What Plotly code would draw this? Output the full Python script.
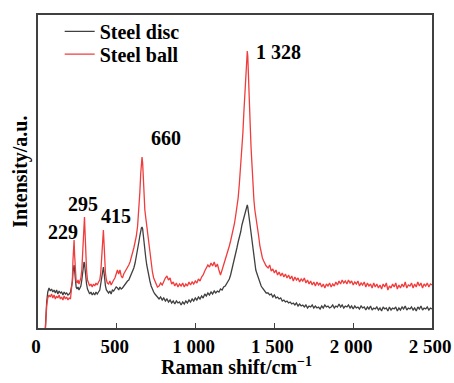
import plotly.graph_objects as go

# Raman shift (cm^-1)
wavenumber = [
    42, 48, 55, 62, 70, 78, 86, 94, 102, 110, 118, 126, 134, 142, 150, 158, 166, 174, 182, 190, 198, 206,
    212, 218, 222, 226, 229, 232, 236, 242, 248, 254, 260, 266, 272, 278, 284, 288, 292, 295, 298, 302, 308, 314,
    320, 328, 336, 344, 352, 360, 368, 376, 384, 392, 398, 404, 408, 412, 415, 418, 422, 428, 434, 440,
    448, 456, 464, 472, 480, 488, 496, 504, 512, 520, 528, 536, 544, 552, 560, 568, 576, 584, 592, 600, 608, 616, 624, 632, 640,
    646, 652, 656, 660, 664, 668, 672, 678, 684, 690, 696, 702, 710, 718, 726, 734, 742, 750, 758,
    768, 778, 788, 798, 808, 818, 828, 838, 848, 858, 868, 878, 888, 898, 908, 918, 928, 938, 948, 958, 968, 978,
    988, 998, 1008, 1018, 1028, 1038, 1048, 1058, 1068, 1078, 1088, 1098, 1108, 1118, 1128, 1138, 1148, 1158,
    1168, 1178, 1188, 1198,
    1206, 1214, 1222, 1230, 1238, 1246, 1254, 1262, 1270, 1278, 1286, 1294, 1300, 1306, 1312, 1318, 1322, 1326,
    1328, 1331, 1335, 1340, 1346, 1352, 1358, 1364, 1370, 1376, 1382, 1388, 1394, 1400, 1408, 1416, 1424, 1432,
    1440, 1448,
    1460, 1470, 1480, 1490, 1500, 1510, 1520, 1530, 1540, 1550,
    1560, 1570, 1580, 1590, 1600, 1610, 1620, 1630, 1640, 1650,
    1660, 1670, 1680, 1690, 1700, 1710, 1720, 1730, 1740, 1750,
    1760, 1770, 1780, 1790, 1800, 1810, 1820, 1830, 1840, 1850,
    1860, 1870, 1880, 1890, 1900, 1910, 1920, 1930, 1940, 1950,
    1960, 1970, 1980, 1990, 2000, 2010, 2020, 2030, 2040, 2050,
    2060, 2070, 2080, 2090, 2100, 2110, 2120, 2130, 2140, 2150,
    2160, 2170, 2180, 2190, 2200, 2210, 2220, 2230, 2240, 2250,
    2260, 2270, 2280, 2290, 2300, 2310, 2320, 2330, 2340, 2350,
    2360, 2370, 2380, 2390, 2400, 2410, 2420, 2430, 2440, 2450,
    2460, 2470, 2480, 2490, 2500,
]

steel_disc = [
    -15, 8, 26, 36, 40, 37, 39, 36, 38, 35, 38, 34, 37, 35, 36, 33, 36, 34, 35, 33, 34, 36,
    40, 46, 56, 62, 63, 58, 48, 41, 39, 41, 38, 40, 42, 48, 56, 62, 66, 65, 60, 52, 44, 39,
    36, 34, 36, 33, 35, 33, 36, 34, 36, 38, 44, 52, 58, 61, 61, 57, 49, 42, 38, 36,
    35, 37, 34, 38, 37, 39, 41, 40, 38, 41, 39, 40, 42, 44, 45, 47, 48, 51, 53, 56, 60, 65, 71, 78, 86,
    92, 98, 100, 101, 99, 93, 85, 76, 70, 63, 57, 52, 47, 42, 38, 36, 34, 32, 31,
    29, 31, 28, 30, 27, 29, 26, 28, 25, 27, 24, 27, 25, 26, 23, 26, 24, 27, 25, 28, 26, 29,
    27, 30, 28, 31, 29, 32, 30, 34, 32, 35, 33, 36, 34, 37, 35, 37, 36, 39,
    38, 41, 42, 45,
    46, 49, 53, 58, 62, 68, 74, 80, 86, 90, 96, 103, 107, 111, 115, 119, 121, 123,
    123, 121, 116, 108, 100, 93, 84, 76, 68, 62, 58, 55, 52, 49, 45, 42, 40, 38,
    37, 35,
    35, 33, 34, 31, 33, 30, 31, 29, 30, 27,
    28, 26, 27, 25, 26, 24, 25, 23, 25, 22,
    24, 22, 23, 21, 23, 20, 22, 21, 23, 20,
    22, 20, 21, 19, 22, 20, 23, 21, 22, 20,
    21, 23, 20, 22, 21, 24, 21, 23, 20, 22,
    21, 23, 20, 22, 19, 22, 20, 21, 19, 22,
    20, 21, 18, 21, 19, 22, 18, 20, 19, 21,
    18, 20, 17, 21, 19, 20, 17, 21, 18, 20,
    19, 21, 17, 20, 18, 21, 19, 22, 18, 20,
    19, 21, 18, 20, 17, 21, 19, 22, 18, 20,
    19, 21, 18, 20, 19,
]

steel_ball = [
    -15, 5, 22, 30, 33, 31, 34, 30, 33, 29, 32, 30, 33, 29, 31, 28, 32, 29, 31, 28, 30, 29,
    36, 48, 68, 85, 88, 74, 56, 47, 45, 48, 44, 47, 50, 58, 75, 92, 105, 111, 98, 78, 58, 48,
    45, 42, 44, 41, 44, 42, 45, 43, 46, 48, 55, 70, 85, 96, 98, 88, 70, 55, 48, 45,
    44, 47, 43, 46, 48, 50, 55, 58, 54, 58, 52, 50, 54, 56, 58, 61, 63, 66, 70, 75, 80, 86, 92, 102, 118,
    135, 155, 166, 171, 165, 150, 133, 118, 110, 102, 95, 85, 72, 64, 56, 50, 47, 43, 41,
    42, 45, 43, 47, 50, 52, 48, 50, 44, 46, 42, 45, 41, 44, 42, 45, 41, 44, 42, 46, 43, 46,
    44, 47, 45, 49, 47, 51, 53, 57, 60, 63, 61, 65, 62, 66, 61, 64, 58, 53,
    58, 63, 67, 73,
    78, 82, 87, 92, 98, 104, 112, 120, 130, 145, 162, 180, 195, 215, 235, 255, 266, 274,
    277, 272, 258, 235, 205, 180, 160, 142, 128, 118, 110, 104, 98, 92, 82, 74, 70, 67,
    64, 62,
    60, 63, 57, 59, 55, 58, 53, 56, 52, 55,
    51, 54, 50, 53, 49, 52, 47, 51, 48, 50,
    46, 49, 47, 50, 45, 48, 44, 47, 43, 46,
    42, 46, 43, 45, 41, 44, 40, 44, 42, 45,
    41, 44, 42, 46, 43, 47, 44, 48, 45, 47,
    44, 48, 45, 47, 43, 46, 44, 47, 42, 45,
    43, 46, 41, 45, 42, 44, 40, 45, 41, 44,
    40, 43, 39, 44, 41, 45, 38, 42, 40, 44,
    41, 45, 39, 43, 40, 44, 41, 46, 40, 43,
    42, 45, 40, 44, 41, 46, 42, 45, 40, 44,
    42, 45, 41, 44, 43,
]

series_names = ["Steel disc", "Steel ball"]
series_colors = ["#404040", "#f03c3c"]

tick_values = [0, 500, 1000, 1500, 2000, 2500]
tick_labels = ["0", "500", "1 000", "1 500", "2 000", "2 500"]

peak_labels = ["229", "295", "415", "660", "1 328"]
peak_label_x = [48, 175, 390, 702, 1368]
peak_label_y = [96, 124, 112, 190, 276]

FONT = "Liberation Serif"
FS = 20

fig = go.Figure()
legend_ids = ["legend", "legend2"]
for name, ys, col, lg in zip(series_names, [steel_disc, steel_ball], series_colors, legend_ids):
    fig.add_trace(go.Scatter(x=wavenumber, y=ys, mode="lines", name="<b>" + name + "</b>",
                             legend=lg, line=dict(color=col, width=1.3)))

for t, px_, py_ in zip(peak_labels, peak_label_x, peak_label_y):
    fig.add_annotation(x=px_, y=py_, text="<b>" + t + "</b>", showarrow=False,
                       xanchor="left", yanchor="middle",
                       font=dict(family=FONT, size=FS, color="black"))

# axis titles
fig.add_annotation(xref="paper", yref="paper", x=0.505, y=-0.123,
                   text="<b>Raman shift/cm<sup>−1</sup></b>", showarrow=False,
                   xanchor="center", yanchor="middle",
                   font=dict(family=FONT, size=FS, color="black"))
fig.add_annotation(xref="paper", yref="paper", x=-0.045, y=0.5,
                   text="<b>Intensity/a.u.</b>", showarrow=False, textangle=-90,
                   xanchor="center", yanchor="middle",
                   font=dict(family=FONT, size=FS, color="black"))

legend_style = dict(xanchor="left", yanchor="top", bgcolor="rgba(0,0,0,0)", borderwidth=0,
                    font=dict(family=FONT, size=FS, color="black"))
fig.update_layout(
    width=454, height=383,
    margin=dict(l=38, r=22, t=15, b=55, autoexpand=False),
    paper_bgcolor="white", plot_bgcolor="white",
    font=dict(family=FONT, size=FS, color="black"),
    showlegend=True,
    legend=dict(x=0.055, y=1.01, **legend_style),
    legend2=dict(x=0.055, y=0.937, **legend_style),
)

fig.update_xaxes(range=[0, 2500], tickvals=tick_values,
                 ticktext=["<b>" + s + "</b>" for s in tick_labels],
                 ticks="inside", ticklen=5, tickwidth=1.3, tickcolor="#404040",
                 showline=True, linecolor="#404040", linewidth=1.5, mirror=True,
                 showgrid=False, zeroline=False, automargin=False,
                 ticklabeloverflow="allow", ticklabelshift=-2,
                 tickfont=dict(family=FONT, size=19, color="black"))
fig.update_yaxes(range=[0, 313], showticklabels=False, ticks="",
                 showline=True, linecolor="#404040", linewidth=1.5, mirror=True,
                 showgrid=False, zeroline=False, automargin=False)

fig.write_html("out.html", config={"displayModeBar": False},
               post_script="document.body.style.margin='0';document.body.style.overflow='hidden';")
